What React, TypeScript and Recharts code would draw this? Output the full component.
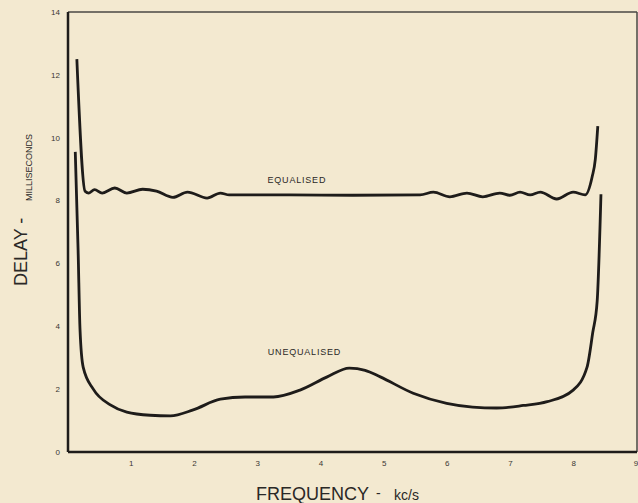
import { LineChart, Line, XAxis, YAxis, ReferenceLine, ReferenceDot } from 'recharts';

// frequency (kc/s) and delay (ms)
const eqFreq = [0.14, 0.27, 0.33, 0.42, 0.54, 0.74, 0.93, 1.18, 1.4, 1.66, 1.89, 2.2, 2.41, 2.55, 3.5, 4.5, 5.57, 5.78, 6.04, 6.31, 6.56, 6.83, 6.99, 7.15, 7.31, 7.47, 7.73, 7.99, 8.18, 8.29, 8.34, 8.38];
const eqDelay = [12.5, 8.3, 8.24, 8.35, 8.24, 8.4, 8.24, 8.36, 8.3, 8.1, 8.27, 8.08, 8.24, 8.18, 8.18, 8.17, 8.18, 8.27, 8.12, 8.24, 8.12, 8.24, 8.17, 8.27, 8.18, 8.27, 8.05, 8.27, 8.18, 8.75, 9.3, 10.37];

const uneqFreq = [0.115, 0.16, 0.19, 0.24, 0.4, 0.67, 0.93, 1.3, 1.62, 1.98, 2.41, 2.8, 3.25, 3.67, 4.1, 4.45, 4.7, 4.94, 5.46, 5.99, 6.4, 6.78, 7.2, 7.58, 7.99, 8.21, 8.3, 8.37, 8.43];
const uneqDelay = [9.55, 6.4, 3.9, 2.7, 2.0, 1.5, 1.27, 1.17, 1.15, 1.34, 1.68, 1.75, 1.75, 1.97, 2.39, 2.67, 2.6, 2.39, 1.87, 1.55, 1.43, 1.4, 1.48, 1.6, 1.97, 2.7, 3.8, 4.8, 8.2];

const xTicks = [1, 2, 3, 4, 5, 6, 7, 8, 9];
const yTicks = [0, 2, 4, 6, 8, 10, 12, 14];

const equalised = eqFreq.map((f, i) => ({ f, d: eqDelay[i] }));
const unequalised = uneqFreq.map((f, i) => ({ f, d: uneqDelay[i] }));

const ink = '#1e1c1a';
const paper = '#f3e9d0';
const font = '"Liberation Sans", "DejaVu Sans", sans-serif';

function XLabel() {
  return (
    <text y={500} fill="#2a2826" fontFamily={font}>
      <tspan x={256} fontSize={18}>FREQUENCY</tspan>
      <tspan x={376} dy={-2} fontSize={14}>-</tspan>
      <tspan x={394} dy={2} fontSize={14}>kc/s</tspan>
    </text>
  );
}

function YLabel() {
  return (
    <g fill="#2a2826" fontFamily={font}>
      <text x={27} y={286} fontSize={18} transform="rotate(-90 27 286)">DELAY -</text>
      <text x={32} y={201} fontSize={9}  transform="rotate(-90 32 201)">MILLISECONDS</text>
    </g>
  );
}

export default function App() {
  return (
    <div style={{ position: 'fixed', left: 0, top: 0, width: 638, height: 503, background: paper }}>
      <LineChart width={638} height={503} margin={{ top: 12, right: 1, left: 0, bottom: 0 }}>
        <XAxis
          type="number"
          dataKey="f"
          domain={[0, 9]}
          ticks={xTicks}
          allowDataOverflow
          height={51}
          tickLine={false}
          axisLine={{ stroke: ink, strokeWidth: 2.5 }}
          tick={{ fontSize: 8, fill: '#3a3734', fontFamily: font }}
          label={{ content: () => <XLabel /> }}
        />
        <YAxis
          type="number"
          dataKey="d"
          domain={[0, 14]}
          ticks={yTicks}
          width={68}
          tickLine={false}
          axisLine={{ stroke: ink, strokeWidth: 2.5 }}
          tick={{ fontSize: 8, fill: '#3a3734', fontFamily: font }}
          label={{ content: () => <YLabel /> }}
        />
        <ReferenceLine y={14} stroke="#4a4744" strokeWidth={1.5} />
        <ReferenceLine x={9} stroke="#4a4744" strokeWidth={1.5} />
        <Line
          data={equalised}
          dataKey="d"
          type="monotone"
          stroke={ink}
          strokeWidth={2.8}
          dot={false}
          isAnimationActive={false}
        />
        <Line
          data={unequalised}
          dataKey="d"
          type="monotone"
          stroke={ink}
          strokeWidth={2.8}
          dot={false}
          isAnimationActive={false}
        />
        <ReferenceDot
          x={3.62}
          y={8.65}
          r={0}
          stroke="none"
          label={{ value: 'EQUALISED', position: 'center', fontSize: 9, fill: '#2a2826', fontFamily: font, letterSpacing: 0.8 }}
        />
        <ReferenceDot
          x={3.74}
          y={3.18}
          r={0}
          stroke="none"
          label={{ value: 'UNEQUALISED', position: 'center', fontSize: 9, fill: '#2a2826', fontFamily: font, letterSpacing: 0.8 }}
        />
      </LineChart>
    </div>
  );
}
